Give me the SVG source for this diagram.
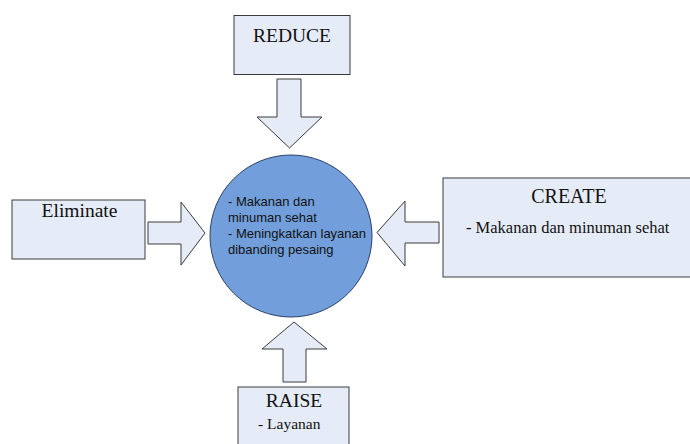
<svg xmlns="http://www.w3.org/2000/svg" width="690" height="444" viewBox="0 0 690 444">
<style>
.box{fill:#e6ecf7;stroke:#3a3a3a;stroke-width:1}
.arr{fill:#e6ecf7;stroke:#3a3a3a;stroke-width:1;stroke-linejoin:miter}
.t{font-family:"Liberation Serif",serif;fill:#111}
.c{font-family:"Liberation Sans",Arial,sans-serif;font-size:13px;fill:#111}
</style>
<rect width="690" height="444" fill="#ffffff"/>
<g id="connectors">
<polygon class="arr" points="277,79 301,79 301,117 322,117 289.5,148 257,117 277,117"/>
<polygon class="arr" points="148,222 181,222 181,202 205,233 181,265 181,244 148,244"/>
<polygon class="arr" points="439,222 405,222 405,201 377,232.5 405,266 405,243 439,243"/>
<polygon class="arr" points="283,382 306,382 306,349 327,349 294,322 262,349 283,349"/>
</g>
<g id="center">
<circle cx="291" cy="236" r="81" fill="#729fdb" stroke="#2c4066" stroke-width="1"/>
<text class="c" x="228" y="206">- Makanan dan</text>
<text class="c" x="228" y="222">minuman sehat</text>
<text class="c" x="228" y="238">- Meningkatkan layanan</text>
<text class="c" x="228" y="254">dibanding pesaing</text>
</g>
<g id="reduce">
<rect class="box" x="234" y="15.5" width="116" height="59"/>
<text class="t" x="292" y="42" font-size="19.5" text-anchor="middle">REDUCE</text>
</g>
<g id="eliminate">
<rect class="box" x="12" y="200" width="133" height="59"/>
<text class="t" x="79.5" y="217" font-size="19.5" text-anchor="middle">Eliminate</text>
</g>
<g id="create">
<rect class="box" x="443" y="178" width="250" height="99"/>
<text class="t" x="569" y="203" font-size="20" text-anchor="middle">CREATE</text>
<text class="t" x="466" y="233" font-size="16.5">- Makanan dan minuman sehat</text>
</g>
<g id="raise">
<rect class="box" x="238" y="387" width="111" height="70"/>
<text class="t" x="294" y="407" font-size="19.5" text-anchor="middle">RAISE</text>
<text class="t" x="258" y="429" font-size="15.5">- Layanan</text>
</g>
</svg>
